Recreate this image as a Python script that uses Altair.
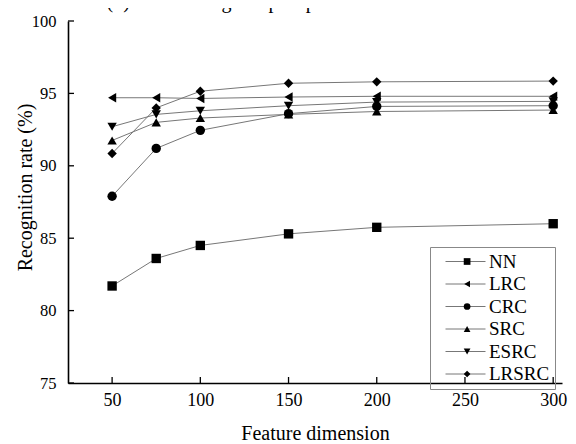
import altair as alt
import pandas as pd

dims = [50, 75, 100, 150, 200, 300]
series_names = ["NN", "LRC", "CRC", "SRC", "ESRC", "LRSRC"]
NN = [81.7, 83.6, 84.5, 85.3, 85.75, 86.0]
LRC = [94.7, 94.7, 94.65, 94.75, 94.8, 94.8]
CRC = [87.9, 91.2, 92.45, 93.6, 94.1, 94.15]
SRC = [91.75, 93.0, 93.3, 93.55, 93.75, 93.85]
ESRC = [92.7, 93.55, 93.8, 94.15, 94.4, 94.45]
LRSRC = [90.85, 94.0, 95.15, 95.7, 95.8, 95.85]
shapes = ["square", "triangle-left", "circle", "triangle-up", "triangle-down", "diamond"]
x_ticks = [50, 100, 150, 200, 250, 300]
y_ticks = [75, 80, 85, 90, 95, 100]

vals = [NN, LRC, CRC, SRC, ESRC, LRSRC]
rows = []
for name, v in zip(series_names, vals):
    for d, r in zip(dims, v):
        rows.append({"series": name, "dim": d, "rate": r})
df = pd.DataFrame(rows)

W, H = 494, 362
FONT = "Liberation Serif, Times New Roman, Times, serif"

xaxis = alt.Axis(values=x_ticks, title="Feature dimension", grid=False, tickSize=0,
                 labelPadding=8, labelFontSize=18, titleFontSize=20, titleFontWeight="normal",
                 titlePadding=14, labelColor="black", titleColor="black",
                 domainColor="black", domainWidth=1.6, labelFont=FONT, titleFont=FONT)
yaxis = alt.Axis(values=y_ticks, title="Recognition rate (%)", grid=False, tickSize=0,
                 labelPadding=12, labelFontSize=16.5, titleFontSize=20, titleFontWeight="normal",
                 labelColor="black", titleColor="black", domainColor="black", domainWidth=1.6,
                 labelFont=FONT, titleFont=FONT, titleAngle=270, titleX=-43, titleY=166,
                 titleAlign="center", titleBaseline="middle")
xs = alt.Scale(domain=[25, 305], nice=False, zero=False)
ys = alt.Scale(domain=[75, 100], nice=False, zero=False)

X = alt.X("dim:Q", scale=xs, axis=xaxis)
Y = alt.Y("rate:Q", scale=ys, axis=yaxis)

LX, LY = 362, 226

lines = alt.Chart(df).mark_line(strokeWidth=1, color="#777").encode(
    x=X, y=Y,
    color=alt.Color("series:N", scale=alt.Scale(domain=series_names, range=["#777"] * 6),
                    legend=alt.Legend(orient="none", legendX=LX, legendY=LY, title=None,
                                      symbolType="M-4,0L4,0", symbolSize=100, symbolStrokeWidth=1,
                                      symbolStrokeColor="#777", symbolFillColor="transparent",
                                      symbolOffset=21,
                                      labelFontSize=19, labelFont=FONT, labelColor="black",
                                      labelOffset=14, rowPadding=2.5, padding=5,
                                      strokeColor="#888", labelLimit=200, zindex=1)),
    order=alt.Order("dim:Q"),
)

points = alt.Chart(df).mark_point(filled=True, color="black", opacity=1, size=88).encode(
    x=X, y=Y,
    shape=alt.Shape("series:N", scale=alt.Scale(domain=series_names, range=shapes),
                    legend=alt.Legend(orient="none", legendX=LX, legendY=LY, title=None,
                                      symbolSize=45, symbolFillColor="black",
                                      symbolStrokeColor="black", symbolOffset=22.6,
                                      labelFontSize=19, labelFont=FONT, labelOpacity=0,
                                      labelOffset=6, rowPadding=2.5, padding=5, zindex=2)),
)

ytick_df = pd.DataFrame({"rate": y_ticks})
xtick_df = pd.DataFrame({"dim": x_ticks})
yt = alt.Chart(ytick_df).mark_rule(color="black", strokeWidth=1.3).encode(
    y=Y, x=alt.value(0), x2=alt.value(6))
xt = alt.Chart(xtick_df).mark_rule(color="black", strokeWidth=1.3).encode(
    x=X, y=alt.value(H), y2=alt.value(H - 6))

chart = alt.layer(lines, points, yt, xt).properties(
    width=W, height=H,
    title=alt.TitleParams("(b) Ten training samples per individual", font=FONT, fontSize=20,
                          fontWeight="normal", color="black", anchor="middle", frame="group",
                          dx=-53, dy=15, offset=0, baseline="alphabetic"),
    autosize=alt.AutoSizeParams(type="none"),
    padding={"left": 60, "top": 13, "right": 6, "bottom": 60},
).configure_view(stroke=None).configure_axis(
    labelFont=FONT, titleFont=FONT
).configure_legend(labelFont=FONT).configure_title(font=FONT).resolve_legend(
    color="independent", shape="independent")

chart.save("out.html", embed_options={"renderer": "svg", "actions": False})
